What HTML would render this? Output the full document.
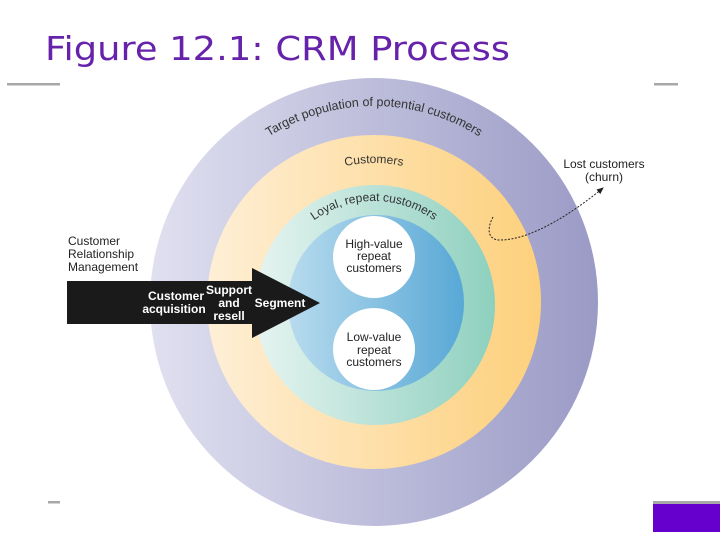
<!DOCTYPE html>
<html><head><meta charset="utf-8"><style>
html,body{margin:0;padding:0;background:#fff;width:720px;height:540px;overflow:hidden}
svg{display:block}
</style></head><body>
<svg width="720" height="540" viewBox="0 0 720 540" xmlns="http://www.w3.org/2000/svg" font-family="Liberation Sans, Arial, sans-serif">
<defs>
<linearGradient id="gOut" x1="0" x2="1" y1="0" y2="0"><stop offset="0" stop-color="#e0e0f0"/><stop offset="1" stop-color="#9a9ac6"/></linearGradient>
<linearGradient id="gOr" x1="0" x2="1"><stop offset="0" stop-color="#feefd6"/><stop offset="1" stop-color="#fdd07c"/></linearGradient>
<linearGradient id="gTe" x1="0" x2="1"><stop offset="0" stop-color="#e6f4f1"/><stop offset="1" stop-color="#8ed0be"/></linearGradient>
<linearGradient id="gBl" x1="0" x2="1"><stop offset="0" stop-color="#b8dbee"/><stop offset="1" stop-color="#58a8d6"/></linearGradient>
<path id="arcT" d="M 178 302 A 196 196 0 0 1 570 302"/>
<path id="arcC" d="M 235 302 A 139 139 0 0 1 513 302"/>
<path id="arcL" d="M 271 304 A 103 103 0 0 1 477 304"/>
<marker id="ah" markerWidth="8" markerHeight="8" refX="6" refY="3" orient="auto"><path d="M0,0 L7,3 L0,6 Z" fill="#222"/></marker>
</defs>
<text x="45" y="60" font-family="DejaVu Sans, sans-serif" font-size="33" fill="#6622aa" textLength="465" lengthAdjust="spacingAndGlyphs">Figure 12.1: CRM Process</text>
<rect x="7" y="83" width="53" height="2.5" fill="#a8a8a8"/>
<rect x="654" y="83" width="24" height="2.5" fill="#a8a8a8"/>
<rect x="48" y="501" width="12" height="2.5" fill="#a8a8a8"/>
<rect x="653" y="501" width="67" height="3" fill="#a8a8a8"/>
<rect x="653" y="504" width="67" height="28" fill="#6600cc"/>

<circle cx="374" cy="302" r="224" fill="url(#gOut)"/>
<circle cx="374" cy="302" r="167" fill="url(#gOr)"/>
<circle cx="375" cy="305" r="120" fill="url(#gTe)"/>
<circle cx="376" cy="303" r="88" fill="url(#gBl)"/>
<circle cx="374" cy="257" r="41" fill="#fff"/>
<circle cx="374" cy="349" r="41" fill="#fff"/>

<text font-size="12.5" fill="#333"><textPath href="#arcT" startOffset="50%" text-anchor="middle">Target population of potential customers</textPath></text>
<text font-size="12" fill="#333"><textPath href="#arcC" startOffset="50%" text-anchor="middle">Customers</textPath></text>
<text font-size="12" fill="#333"><textPath href="#arcL" startOffset="50%" text-anchor="middle">Loyal, repeat customers</textPath></text>

<g font-size="12" fill="#222" text-anchor="middle">
<text x="374" y="248">High-value</text><text x="374" y="260">repeat</text><text x="374" y="272">customers</text>
<text x="374" y="341">Low-value</text><text x="374" y="354">repeat</text><text x="374" y="366">customers</text>
</g>

<path d="M67 281 H252 V268 L320 303 L252 338 V324 H67 Z" fill="#1a1a1a"/>
<g font-size="12" font-weight="bold" fill="#fff" text-anchor="middle">
<text x="176" y="300">Customer</text><text x="174" y="313">acquisition</text>
<text x="229" y="294">Support</text><text x="229" y="307">and</text><text x="229" y="320">resell</text>
<text x="280" y="307">Segment</text>
</g>
<g font-size="12" fill="#222">
<text x="68" y="245">Customer</text><text x="68" y="258">Relationship</text><text x="68" y="271">Management</text>
</g>
<g font-size="12" fill="#222" text-anchor="middle">
<text x="604" y="168">Lost customers</text><text x="604" y="181">(churn)</text>
</g>
<path d="M493 217 C487 228 487 240 500 240 C530 240 570 215 603 188" fill="none" stroke="#222" stroke-width="1" stroke-dasharray="2,1.5" marker-end="url(#ah)"/>
</svg>
</body></html>
